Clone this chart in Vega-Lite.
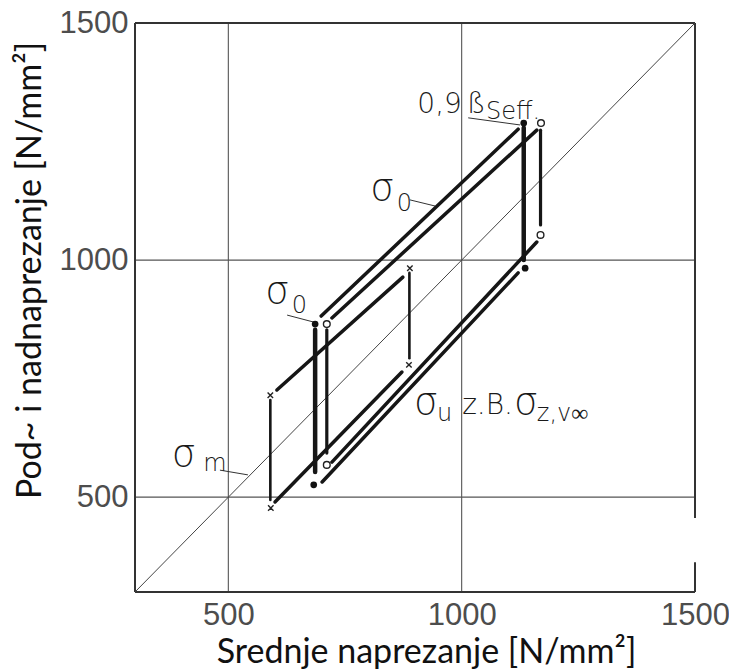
{
  "$schema": "https://vega.github.io/schema/vega-lite/v6.json",
  "width": 560,
  "height": 569,
  "autosize": {"type": "none"},
  "padding": {"left": 135, "top": 23, "right": 34, "bottom": 78},
  "background": "white",
  "config": {"view": {"stroke": null}},
  "datasets": {
    "frame": [
      {"x": 300, "y": 300, "x2": 300, "y2": 1500},
      {"x": 300, "y": 1500, "x2": 1500, "y2": 1500},
      {"x": 300, "y": 300, "x2": 1500, "y2": 300},
      {"x": 1500, "y": 1500, "x2": 1500, "y2": 456},
      {"x": 1500, "y": 363, "x2": 1500, "y2": 300}
    ],
    "grid": [
      {"x": 500, "y": 300, "x2": 500, "y2": 1500},
      {"x": 1000, "y": 300, "x2": 1000, "y2": 1500},
      {"x": 300, "y": 500, "x2": 1500, "y2": 500},
      {"x": 300, "y": 1000, "x2": 1500, "y2": 1000}
    ],
    "mean": [{"x": 300, "y": 300, "x2": 1500, "y2": 1500}],
    "diag": [
      {"x": 699, "y": 882, "x2": 1121, "y2": 1276},
      {"x": 722, "y": 878, "x2": 1161, "y2": 1274},
      {"x": 604, "y": 726, "x2": 874, "y2": 964},
      {"x": 600, "y": 490, "x2": 872, "y2": 764},
      {"x": 701, "y": 532, "x2": 1121, "y2": 973},
      {"x": 722, "y": 574, "x2": 1161, "y2": 1038}
    ],
    "vfill": [{"x": 686, "y": 853, "y2": 553}, {"x": 1133, "y": 1279, "y2": 1000}],
    "vopen": [{"x": 711, "y": 853, "y2": 593}, {"x": 1169, "y": 1274, "y2": 1074}],
    "vx": [{"x": 590, "y": 705, "y2": 494}, {"x": 888, "y": 973, "y2": 793}],
    "dots": [{"x": 686, "y": 865}, {"x": 683, "y": 526}, {"x": 1133, "y": 1289}, {"x": 1136, "y": 983}],
    "circles": [{"x": 711, "y": 865}, {"x": 711, "y": 568}, {"x": 1170, "y": 1289}, {"x": 1169, "y": 1053}],
    "crosses": [{"x": 590, "y": 715}, {"x": 591, "y": 477}, {"x": 889, "y": 983}, {"x": 887, "y": 779}],
    "leaders": [
      {"x": 1014, "y": 1300, "x2": 1125, "y2": 1285},
      {"x": 889, "y": 1127, "x2": 943, "y2": 1114},
      {"x": 626, "y": 884, "x2": 684, "y2": 869},
      {"x": 482, "y": 557, "x2": 542, "y2": 547}
    ],
    "sigma": [
      {"x": 804, "y": 1127, "t": "σ"},
      {"x": 579, "y": 909, "t": "σ"},
      {"x": 379, "y": 566, "t": "σ"},
      {"x": 898, "y": 675, "t": "σ"},
      {"x": 1112, "y": 675, "t": "σ"}
    ],
    "sub": [
      {"x": 861, "y": 1104, "t": "0"},
      {"x": 636, "y": 888, "t": "0"},
      {"x": 446, "y": 555, "t": "m"},
      {"x": 947, "y": 661, "t": "u"}
    ],
    "label": [
      {"x": 905, "y": 1310, "t": "0,9"},
      {"x": 1011, "y": 1310, "t": "ß"},
      {"x": 1001, "y": 675, "t": "z.B."}
    ],
    "small": [
      {"x": 1052, "y": 1298, "t": "Seff."},
      {"x": 1161, "y": 661, "t": "z,v∞"}
    ]
  },
  "encoding": {
    "x": {
      "field": "x", "type": "quantitative",
      "scale": {"domain": [300, 1500], "nice": false, "zero": false},
      "axis": {
        "values": [500, 1000, 1500], "format": "d", "grid": false, "domain": false, "ticks": false,
        "labelFont": "Liberation Sans", "labelFontSize": 31, "labelColor": "#4d4d4d",
        "labelPadding": 8, "labelFlush": false, "labelOverlap": false,
        "title": "Srednje naprezanje [N/mm²]", "titleFont": "Lato", "titleFontSize": 34,
        "titleFontWeight": "normal", "titleColor": "#111111",
        "titleX": 291, "titleY": 70, "titleBaseline": "alphabetic", "titleAlign": "center"
      }
    },
    "y": {
      "field": "y", "type": "quantitative",
      "scale": {"domain": [300, 1500], "nice": false, "zero": false},
      "axis": {
        "values": [500, 1000, 1500], "format": "d", "grid": false, "domain": false, "ticks": false,
        "labelFont": "Liberation Sans", "labelFontSize": 31, "labelColor": "#4d4d4d",
        "labelPadding": 7, "labelOverlap": false,
        "title": "Pod~ i nadnaprezanje [N/mm²]", "titleFont": "Lato", "titleFontSize": 34,
        "titleFontWeight": "normal", "titleColor": "#111111", "titleAngle": 270,
        "titleX": -95, "titleY": 247, "titleBaseline": "alphabetic", "titleAlign": "center"
      }
    }
  },
  "layer": [
    {"data": {"name": "grid"}, "mark": {"type": "rule", "color": "#555555", "strokeWidth": 1.1},
     "encoding": {"x2": {"field": "x2"}, "y2": {"field": "y2"}}},
    {"data": {"name": "frame"}, "mark": {"type": "rule", "color": "#333333", "strokeWidth": 2},
     "encoding": {"x2": {"field": "x2"}, "y2": {"field": "y2"}}},
    {"data": {"name": "mean"}, "mark": {"type": "rule", "color": "#444444", "strokeWidth": 1},
     "encoding": {"x2": {"field": "x2"}, "y2": {"field": "y2"}}},
    {"data": {"name": "leaders"}, "mark": {"type": "rule", "color": "#333333", "strokeWidth": 1},
     "encoding": {"x2": {"field": "x2"}, "y2": {"field": "y2"}}},
    {"data": {"name": "diag"}, "mark": {"type": "rule", "color": "#161616", "strokeWidth": 3.5, "strokeCap": "round"},
     "encoding": {"x2": {"field": "x2"}, "y2": {"field": "y2"}}},
    {"data": {"name": "vfill"}, "mark": {"type": "rule", "color": "#161616", "strokeWidth": 4.5, "strokeCap": "round"},
     "encoding": {"y2": {"field": "y2"}}},
    {"data": {"name": "vopen"}, "mark": {"type": "rule", "color": "#161616", "strokeWidth": 3.2, "strokeCap": "round"},
     "encoding": {"y2": {"field": "y2"}}},
    {"data": {"name": "vx"}, "mark": {"type": "rule", "color": "#161616", "strokeWidth": 2.6, "strokeCap": "round"},
     "encoding": {"y2": {"field": "y2"}}},
    {"data": {"name": "dots"}, "mark": {"type": "point", "shape": "circle", "filled": true, "size": 45, "color": "#111111", "opacity": 1},
     "encoding": {}},
    {"data": {"name": "circles"}, "mark": {"type": "point", "shape": "circle", "filled": true, "size": 45, "fill": "white", "stroke": "#222222", "strokeWidth": 1.4, "opacity": 1},
     "encoding": {}},
    {"data": {"name": "crosses"}, "mark": {"type": "point", "shape": "M-1,-1L1,1M-1,1L1,-1", "filled": false, "size": 30, "stroke": "#222222", "strokeWidth": 1.4, "opacity": 1},
     "encoding": {}},
    {"data": {"name": "sigma"}, "mark": {"type": "text", "font": "DejaVu Sans", "fontWeight": 200, "fontSize": 38, "align": "left", "baseline": "alphabetic", "color": "#1a1a1a"},
     "encoding": {"text": {"field": "t"}}},
    {"data": {"name": "sub"}, "mark": {"type": "text", "font": "DejaVu Sans", "fontWeight": 200, "fontSize": 24, "align": "left", "baseline": "alphabetic", "color": "#1a1a1a"},
     "encoding": {"text": {"field": "t"}}},
    {"data": {"name": "label"}, "mark": {"type": "text", "font": "DejaVu Sans", "fontWeight": 200, "fontSize": 28, "align": "left", "baseline": "alphabetic", "color": "#1a1a1a"},
     "encoding": {"text": {"field": "t"}}},
    {"data": {"name": "small"}, "mark": {"type": "text", "font": "DejaVu Sans", "fontWeight": 200, "fontSize": 24, "align": "left", "baseline": "alphabetic", "color": "#1a1a1a"},
     "encoding": {"text": {"field": "t"}}}
  ]
}
